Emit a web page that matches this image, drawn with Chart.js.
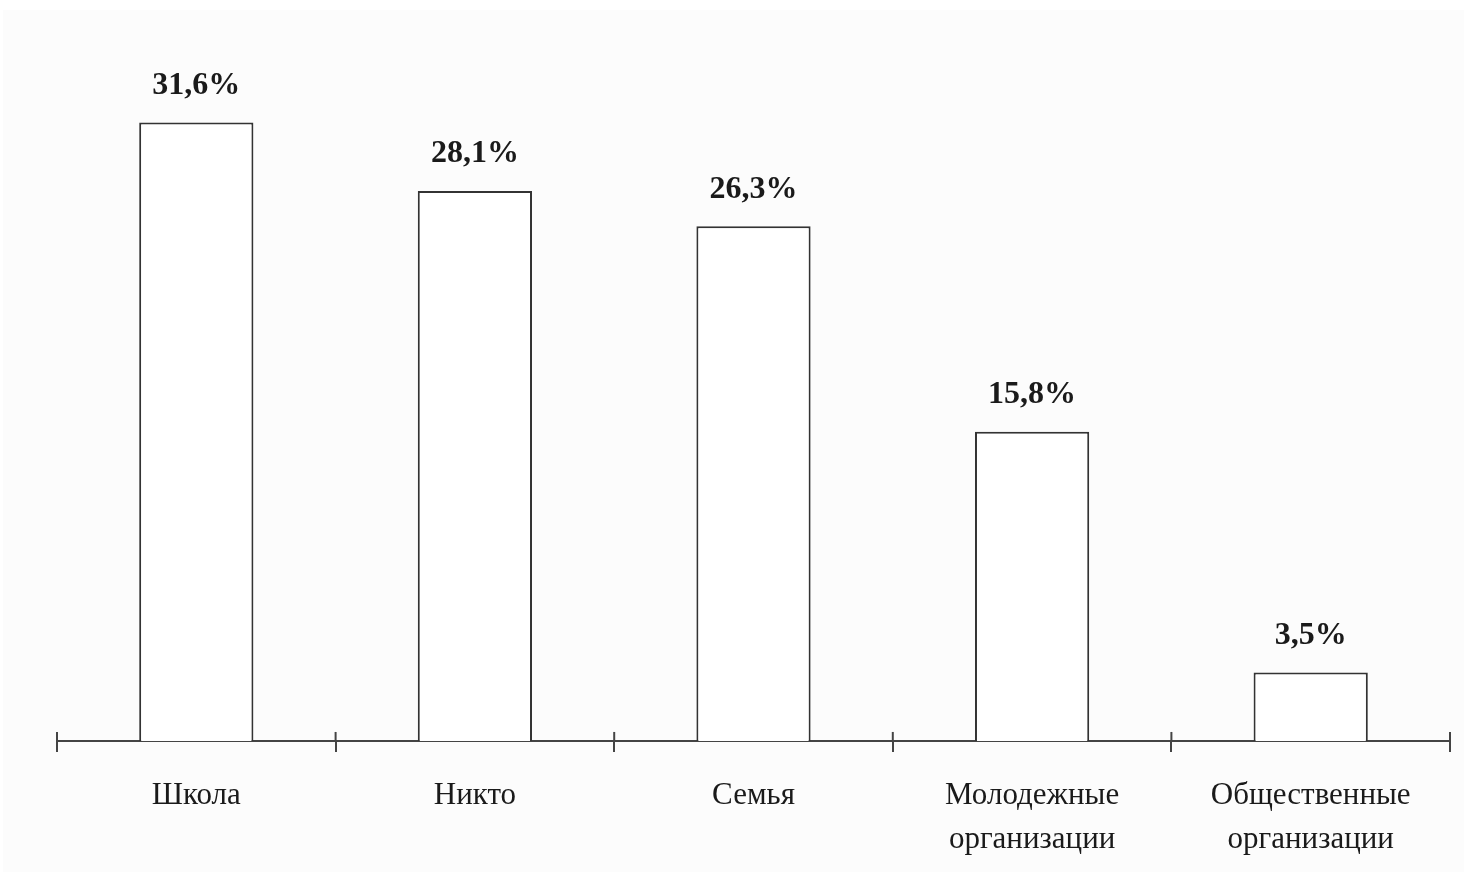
<!DOCTYPE html>
<html>
<head>
<meta charset="utf-8">
<script src="https://cdn.jsdelivr.net/npm/chart.js@4.4.1/dist/chart.umd.min.js"></script>
<style>
  html, body { margin: 0; padding: 0; background: #ffffff; }
  #wrap { position: absolute; left: 3px; top: 10px; width: 1461px; height: 862px; background: #fcfcfc; }
  canvas { display: block; }
</style>
</head>
<body>
<div id="wrap"><canvas id="c" width="1461" height="862"></canvas></div>
<script>
const categories = ["Школа", "Никто", "Семья", ["Молодежные", "организации"], ["Общественные", "организации"]];
const values = [31.6, 28.1, 26.3, 15.8, 3.5];
const valueLabels = ["31,6%", "28,1%", "26,3%", "15,8%", "3,5%"];

const valueLabelPlugin = {
  id: 'valueLabels',
  afterDatasetsDraw(chart) {
    const ctx = chart.ctx;
    const meta = chart.getDatasetMeta(0);
    ctx.save();
    ctx.font = 'bold 32px "Liberation Serif", "Times New Roman", serif';
    ctx.fillStyle = '#1a1a1a';
    ctx.textAlign = 'center';
    ctx.textBaseline = 'middle';
    meta.data.forEach((bar, i) => {
      ctx.fillText(valueLabels[i], bar.x, bar.y - 37);
    });
    ctx.restore();
  }
};

const upperTicksPlugin = {
  id: 'upperTicks',
  afterDraw(chart) {
    const xs = chart.scales.x;
    const ctx = chart.ctx;
    const y0 = chart.chartArea.bottom;
    ctx.save();
    ctx.strokeStyle = '#444';
    ctx.lineWidth = 2;
    for (let i = 0; i <= categories.length; i++) {
      const x = xs.getPixelForValue(i - 0.5);
      ctx.beginPath();
      ctx.moveTo(x, y0 - 9);
      ctx.lineTo(x, y0);
      ctx.stroke();
    }
    ctx.restore();
  }
};

new Chart(document.getElementById('c'), {
  type: 'bar',
  data: {
    labels: categories,
    datasets: [{
      data: values,
      backgroundColor: '#ffffff',
      borderColor: '#333333',
      borderWidth: 2,
      borderSkipped: 'bottom',
      categoryPercentage: 1.0,
      barPercentage: 0.41
    }]
  },
  options: {
    responsive: false,
    animation: false,
    devicePixelRatio: 1,
    layout: { padding: { left: 54, right: 14, top: 46, bottom: -12 } },
    plugins: { legend: { display: false }, tooltip: { enabled: false } },
    scales: {
      y: { display: false, min: 0, max: 35 },
      x: {
        offset: true,
        grid: { display: true, drawOnChartArea: false, drawTicks: true, tickLength: 11, color: '#444', lineWidth: 2, offset: true },
        border: { display: true, color: '#444', width: 2 },
        ticks: {
          color: '#1a1a1a',
          padding: 22,
          maxRotation: 0,
          minRotation: 0,
          autoSkip: false,
          font: { family: '"Liberation Serif", "Times New Roman", serif', size: 31, lineHeight: 1.42 }
        }
      }
    }
  },
  plugins: [valueLabelPlugin, upperTicksPlugin]
});
</script>
</body>
</html>
